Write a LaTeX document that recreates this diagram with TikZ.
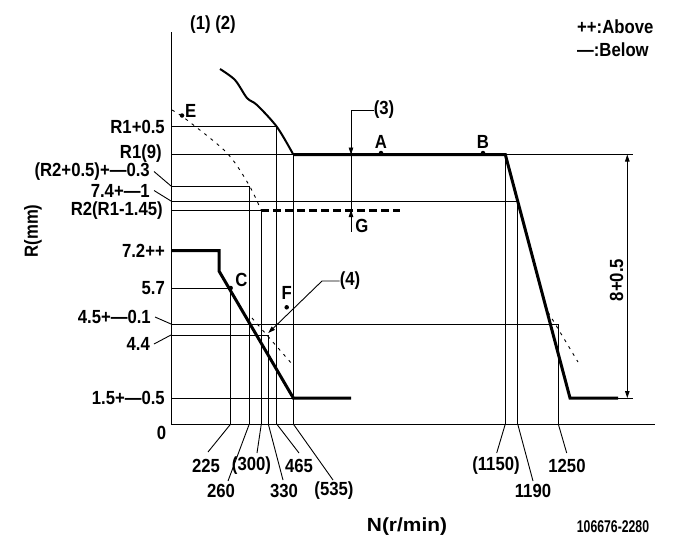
\documentclass[tikz,border=0pt]{standalone}
\usepackage{fontspec}
\setmainfont{Liberation Sans}[FakeStretch=0.88]
\newfontfamily\idfont{Liberation Sans}[FakeStretch=0.72]
\usetikzlibrary{arrows.meta,positioning}

\tikzset{
  lbl/.style={font=\fontsize{19}{19}\selectfont\bfseries, inner sep=0pt},
  grid/.style={line width=0.9pt},
  curve/.style={line width=3pt},
  limit/.style={line width=2pt},
  trace/.style={line width=0.9pt, dash pattern=on 3pt off 5pt},
  stopline/.style={line width=3pt, dash pattern=on 8pt off 4pt},
  tip/.style={-{Triangle[length=7pt,width=4.5pt]}},
  pt/.style={circle, fill, inner sep=0pt, minimum size=4.5pt},
}

\begin{document}
\begin{tikzpicture}[x=1pt,y=-1pt]
  \useasboundingbox (0,0) rectangle (681,549);

  % axes
  \coordinate (O) at (171,424);
  \coordinate (ytop) at (171,32);
  \coordinate (xend) at (655,424);
  \draw[grid] (ytop) -- (O) -- (xend);

  % R levels and N positions
  \coordinate (yR1p) at (171,126);
  \coordinate (k465) at (276.7,126);   \coordinate (b465) at (276.7,424);
  \coordinate (yR1) at (171,154.5);
  \coordinate (k535) at (293.3,154.5); \coordinate (b535) at (293.3,424);
  \coordinate (k1150) at (505.3,154.5); \coordinate (b1150) at (505.3,424);
  \coordinate (eR1) at (633,154.5);
  \coordinate (yR2p) at (171,186);
  \coordinate (k260) at (249.3,186);   \coordinate (b260) at (249.3,424);
  \coordinate (y74) at (171,201);
  \coordinate (k1190) at (517.7,201);  \coordinate (b1190) at (517.7,424);
  \coordinate (yR2) at (171,210);
  \coordinate (k300) at (261.3,210);   \coordinate (b300) at (261.3,424);
  \coordinate (eR2) at (400,210);
  \coordinate (y72) at (171,250.7);
  \coordinate (g1) at (219,250.7);     \coordinate (g2) at (219,271);
  \coordinate (y57) at (171,288);
  \coordinate (k225) at (230.7,288);   \coordinate (b225) at (230.7,424);
  \coordinate (y45) at (171,324);
  \coordinate (k1250) at (558.3,324);  \coordinate (b1250) at (558.3,424);
  \coordinate (y44) at (171,335);
  \coordinate (k330) at (268.3,335);   \coordinate (b330) at (268.3,424);
  \coordinate (y15) at (171,398);
  \coordinate (s535) at (293.3,398);   \coordinate (e15) at (351,398);
  \coordinate (s1190) at (570,398);    \coordinate (e1190) at (618,398);
  \coordinate (eR15) at (633,398);

  % thin guide lines
  \draw[grid] (yR1p) -- (k465) -- (b465);
  \draw[grid] (yR1) -- (eR1);
  \draw[grid] (k535) -- (b535);
  \draw[grid] (k1150) -- (b1150);
  \draw[grid] (yR2p) -- (k260) -- (b260);
  \draw[grid] (y74) -- (k1190) -- (b1190);
  \draw[grid] (yR2) -- (k300) -- (b300);
  \draw[grid] (y57) -- (k225) -- (b225);
  \draw[grid] (y45) -- (k1250) -- (b1250);
  \draw[grid] (y44) -- (k330) -- (b330);
  \draw[grid] (y15) -- (s535);
  \draw[grid] (e1190) -- (eR15);

  % governor curves
  \draw[curve] (y72) -- (g1) -- (g2) -- (s535) -- (e15);
  \draw[curve] (k535) -- (k1150) -- (s1190) -- (e1190);
  \draw[limit] plot[smooth] coordinates {(220,69) (235,80) (247,98) (257,105) (277,127) (293.3,154.5)};
  \draw[stopline] (k300) -- (eR2);
  \draw[trace] plot[smooth] coordinates {(172,110) (187,120) (227,153) (249,185) (261,210)};
  \draw[trace] (252,318) -- (292,364);
  \draw[trace] (548,312) -- (578,362);

  % points
  \node[pt] (E) at (182,115.5) {};
  \node[lbl] (labE) [right=0.5pt of E, yshift=5pt] {E};
  \node[pt] (A) at (381,153) {};
  \node[lbl] (labA) [above=1.5pt of A] {A};
  \node[pt] (B) at (483,153) {};
  \node[lbl] (labB) [above=1.5pt of B] {B};
  \node[pt] (C) at (230.7,288) {};
  \node[lbl] (labC) [right=2pt of C, yshift=8pt] {C};
  \node[pt] (F) at (286.7,307.3) {};
  \node[lbl] (labF) [above=5pt of F] {F};
  \node[lbl] (labG) at (362,226) {G};

  % (3)
  \coordinate (d3top) at (351,110);
  \coordinate (d3bot) at (351,232);
  \coordinate (a3) at (351,154.5);
  \coordinate (g3) at (351,210);
  \node[lbl] (n3) at (384,110) {(3)};
  \draw[grid] (n3.west) -- (d3top) -- (d3bot);
  \draw[grid, tip] ([yshift=12pt]a3) -- (a3);
  \draw[grid, tip] ([yshift=-12pt]g3) -- (g3);

  % (4)
  \node[lbl] (n4) at (350,281) {(4)};
  \coordinate (k4) at (322,281);
  \coordinate (tip4) at (268.3,333);
  \draw[grid, tip] (n4.west) -- (k4) -- (tip4);

  % stroke
  \coordinate (dtop) at (627.3,154.5);
  \coordinate (dbot) at (627.3,398);
  \draw[grid, {Triangle[length=7pt,width=4.5pt]}-{Triangle[length=7pt,width=4.5pt]}] (dtop) -- (dbot);
  \node[lbl, rotate=90] (n8) at (616.7,280) {8+0.5};

  % R labels
  \node[lbl, anchor=east] (lR1p) at (165,126.5) {R1+0.5};
  \node[lbl, anchor=east] (lR1) at (162,154) {R1(9)};
  \node[lbl, anchor=east] (lR2p) at (150,171.5) {(R2+0.5)+---0.3};
  \node[lbl, anchor=east] (l74) at (150,190.5) {7.4+---1};
  \node[lbl, anchor=east] (lR2) at (163,211) {R2(R1-1.45)};
  \node[lbl, anchor=east] (l72) at (165,251) {7.2++};
  \node[lbl, anchor=east] (l57) at (165,288) {5.7};
  \node[lbl, anchor=east] (l45) at (151,317) {4.5+---0.1};
  \node[lbl, anchor=east] (l44) at (150,344) {4.4};
  \node[lbl, anchor=east] (l15) at (165,398) {1.5+---0.5};
  \node[lbl] (l0) at (161.5,433) {0};
  \draw[grid] ([xshift=4pt]lR2p.east) -- (yR2p);
  \draw[grid] ([xshift=4pt]l74.east) -- (y74);
  \draw[grid] ([xshift=4pt]l45.east) -- (y45);
  \draw[grid] ([xshift=4pt]l44.east) -- (y44);

  % N labels
  \node[lbl] (n225) at (206,466) {225};
  \node[lbl] (n260) at (221,491) {260};
  \node[lbl] (n300) at (251.5,466) {(300)};
  \node[lbl] (n330) at (284,491) {330};
  \node[lbl] (n465) at (299,466) {465};
  \node[lbl] (n535) at (334,491) {(535)};
  \node[lbl] (n1150) at (496,466) {(1150)};
  \node[lbl] (n1190) at (533,491) {1190};
  \node[lbl] (n1250) at (567,466) {1250};
  \coordinate (t225) at (208,452);
  \coordinate (t260) at (228,481);
  \coordinate (t300) at (257,453);
  \coordinate (t330) at (283,480);
  \coordinate (t465) at (299,453);
  \coordinate (t535) at (333,480);
  \coordinate (t1150) at (496.7,453);
  \coordinate (t1190) at (533,481);
  \coordinate (t1250) at (566.7,453);
  \draw[grid] (b225) -- (t225);
  \draw[grid] (b260) -- (t260);
  \draw[grid] (b300) -- (t300);
  \draw[grid] (b330) -- (t330);
  \draw[grid] (b465) -- (t465);
  \draw[grid] (b535) -- (t535);
  \draw[grid] (b1150) -- (t1150);
  \draw[grid] (b1190) -- (t1190);
  \draw[grid] (b1250) -- (t1250);

  % titles
  \node[lbl] (axN) at (407,527) {\scalebox{1.25}[1]{N(r/min)}};
  \node[lbl, rotate=90] (axR) at (33,231) {R(mm)};
  \node[lbl] (refs) at (213,25) {(1) (2)};
  \node[lbl, anchor=west] (above) at (577,27) {++:Above};
  \node[lbl, anchor=west] (below) at (577,49.5) {---:Below};
  \node[inner sep=0pt, font=\fontsize{17}{17}\selectfont\idfont\bfseries] (code) at (613,527) {106676-2280};
\end{tikzpicture}
\end{document}
